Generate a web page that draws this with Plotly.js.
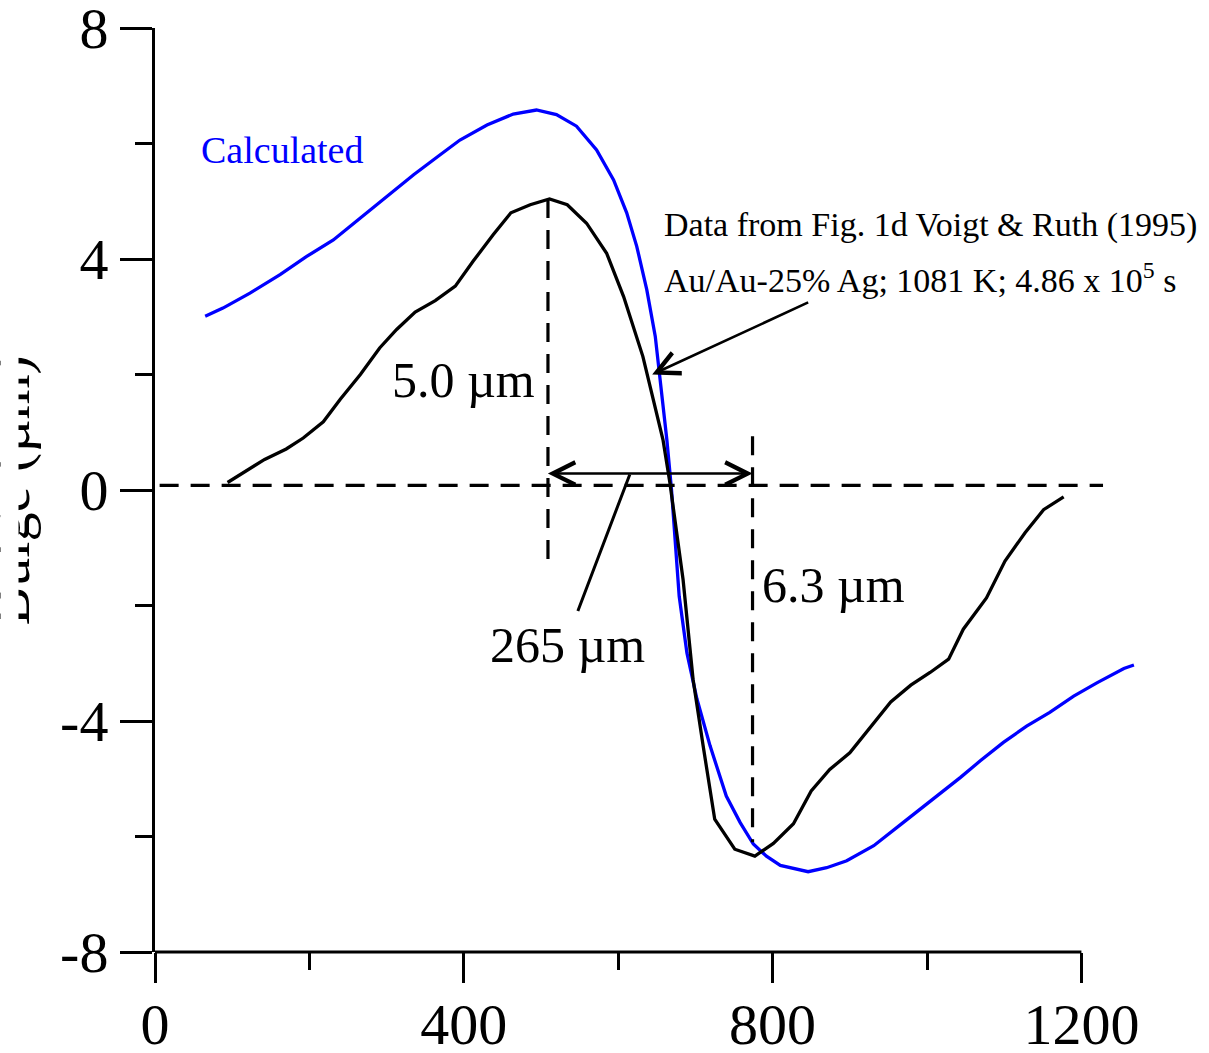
<!DOCTYPE html>
<html>
<head>
<meta charset="utf-8">
<script src="https://cdn.plot.ly/plotly-3.0.1.min.js"></script>
<style>html,body{margin:0;padding:0;background:#fff;}#chart{width:1209px;height:1053px;}</style>
</head>
<body>
<div id="chart"></div>
<script>
// ---- data (distance in µm, bulge in µm) ----
const dataX = [94,123,142,170,192,218,240,266,291,313,337,363,389,412,438,461,486,511,534,559,585,607,632,658,667,684,697,710,725,751,777,801,827,850,874,900,927,953,979,1004,1028,1047,1077,1101,1127,1151,1177];
const dataY = [0.13,0.38,0.53,0.71,0.90,1.18,1.57,2.00,2.46,2.78,3.08,3.28,3.53,3.96,4.42,4.80,4.94,5.04,4.94,4.62,4.10,3.35,2.31,0.87,0.12,-1.55,-3.28,-4.43,-5.70,-6.22,-6.34,-6.12,-5.78,-5.21,-4.84,-4.55,-4.09,-3.67,-3.38,-3.16,-2.93,-2.41,-1.87,-1.23,-0.74,-0.34,-0.12];

const calcX = [65,88,123,162,196,231,266,300,335,369,395,430,464,494,520,546,572,594,611,624,637,648,656,663,669,674,679,689,702,719,740,758,775,792,810,846,870,896,931,969,1008,1043,1069,1099,1129,1159,1190,1220,1255,1268];
const calcY = [3.01,3.15,3.41,3.73,4.04,4.33,4.71,5.08,5.46,5.80,6.06,6.32,6.51,6.58,6.50,6.30,5.89,5.37,4.80,4.22,3.47,2.66,1.74,0.87,0.01,-0.90,-1.84,-2.82,-3.62,-4.43,-5.30,-5.76,-6.13,-6.34,-6.50,-6.61,-6.54,-6.42,-6.16,-5.76,-5.35,-4.98,-4.69,-4.37,-4.09,-3.85,-3.57,-3.34,-3.09,-3.03];

// tick labels
const xTickVals = [0, 400, 800, 1200];
const xTickText = ['0', '400', '800', '1200'];
const xMinorVals = [200, 600, 1000];
const yTickVals = [-8, -4, 0, 4, 8];
const yTickText = ['-8', '-4', '0', '4', '8'];
const yMinorVals = [-6, -2, 2, 6];

// annotation markers (reading of the figure)
const peakX = 509, peakY = 5.04;       // 5.0 µm
const troughX = 774, troughY = -6.3;   // 6.3 µm
const baseY = 0.08;                    // dashed reference level
const spanY = 0.285;                   // 265 µm arrow level

const serif = '"Liberation Serif", "Times New Roman", Times, serif';

const traces = [
  { x: calcX, y: calcY, type: 'scatter', mode: 'lines', name: 'Calculated',
    line: { color: '#0000ff', width: 3.3 }, hoverinfo: 'skip' },
  { x: dataX, y: dataY, type: 'scatter', mode: 'lines', name: 'Data',
    line: { color: '#000000', width: 3.3 }, hoverinfo: 'skip' }
];

const dashStyle = { color: '#000', width: 3.2, dash: '19px,12px' };

const layout = {
  width: 1209, height: 1053,
  margin: { l: 155, r: 9, t: 28, b: 101, pad: 0 },
  paper_bgcolor: '#fff', plot_bgcolor: '#fff',
  showlegend: false,
  font: { family: serif, color: '#000' },
  xaxis: {
    range: [0, 1353.6], showgrid: false, zeroline: false, showline: false,
    tickmode: 'array', tickvals: xTickVals, ticktext: xTickText,
    ticks: 'outside', ticklen: 30, tickwidth: 3, tickcolor: '#000',
    ticklabelstandoff: -9, ticklabeloverflow: 'allow',
    tickfont: { family: serif, size: 58, color: '#000' },
    minor: { tickmode: 'array', tickvals: xMinorVals, ticks: 'outside', ticklen: 17, tickwidth: 3, tickcolor: '#000', showgrid: false }
  },
  yaxis: {
    range: [-8, 8], showgrid: false, zeroline: false,
    showline: true, linecolor: '#000', linewidth: 3,
    tickmode: 'array', tickvals: yTickVals, ticktext: yTickText,
    ticks: 'outside', ticklen: 32, tickwidth: 3, tickcolor: '#000',
    ticklabelstandoff: 0, ticklabeloverflow: 'allow',
    tickfont: { family: serif, size: 58, color: '#000' },
    minor: { tickmode: 'array', tickvals: yMinorVals, ticks: 'outside', ticklen: 17, tickwidth: 3, tickcolor: '#000', showgrid: false }
  },
  shapes: [
    // x axis line (stops at 1200)
    { type: 'line', xref: 'x', yref: 'paper', x0: 0, x1: 1200, y0: 0, y1: 0, line: { color: '#000', width: 3 } },
    // dashed horizontal reference
    { type: 'line', xref: 'x', yref: 'y', x0: 6, x1: 1228, y0: baseY, y1: baseY, line: dashStyle },
    // dashed verticals
    { type: 'line', xref: 'x', yref: 'y', x0: peakX, x1: peakX, y0: peakY, y1: -1.2, line: dashStyle },
    { type: 'line', xref: 'x', yref: 'y', x0: troughX, x1: troughX, y0: 0.93, y1: -6.1, line: dashStyle }
  ],
  annotations: [
    { text: 'Bulge (µm)', textangle: -90, xref: 'paper', yref: 'paper', x: 0, y: 0.5,
      xshift: -145.6, xanchor: 'center', yanchor: 'middle', showarrow: false,
      font: { family: serif, size: 58, color: '#000' } },
    // the reference figure is cropped: only the lower part of the axis title glyphs shows
    { text: ' ', xref: 'paper', yref: 'paper', x: 0, y: 0.5, xshift: -155, xanchor: 'left', yanchor: 'middle',
      width: 17, height: 340, bgcolor: '#ffffff', borderpad: 0, showarrow: false },
    { text: 'Calculated', xref: 'x', yref: 'y', x: 57, y: 5.49, xanchor: 'left', yanchor: 'bottom',
      showarrow: false, font: { family: serif, size: 38, color: '#0000ff' } },
    { text: 'Data from Fig. 1d Voigt &amp; Ruth (1995)', xref: 'x', yref: 'y', x: 657, y: 4.22,
      xanchor: 'left', yanchor: 'bottom', showarrow: false, font: { family: serif, size: 34, color: '#000' } },
    { text: 'Au/Au-25% Ag; 1081 K; 4.86 x 10<sup>5</sup> s', xref: 'x', yref: 'y', x: 657, y: 3.27,
      xanchor: 'left', yanchor: 'bottom', showarrow: false, font: { family: serif, size: 34, color: '#000' } },
    { text: '5.0 µm', xref: 'x', yref: 'y', x: 304, y: 1.38, xanchor: 'left', yanchor: 'bottom',
      showarrow: false, font: { family: serif, size: 50, color: '#000' } },
    { text: '265 µm', xref: 'x', yref: 'y', x: 431, y: -3.21, xanchor: 'left', yanchor: 'bottom',
      showarrow: false, font: { family: serif, size: 50, color: '#000' } },
    { text: '6.3 µm', xref: 'x', yref: 'y', x: 784, y: -2.17, xanchor: 'left', yanchor: 'bottom',
      showarrow: false, font: { family: serif, size: 50, color: '#000' } },
    // double arrow, 265 µm span
    { text: '', xref: 'x', yref: 'y', axref: 'x', ayref: 'y', x: troughX, y: spanY, ax: 507, ay: spanY,
      showarrow: true, arrowside: 'end+start', arrowhead: 5, startarrowhead: 5,
      arrowsize: 1.7, startarrowsize: 1.7, arrowwidth: 2.6, arrowcolor: '#000', standoff: 0, startstandoff: 0 },
    // arrow from label to data curve
    { text: '', xref: 'x', yref: 'y', axref: 'x', ayref: 'y', x: 644, y: 2.0, ax: 848, ay: 3.26,
      showarrow: true, arrowhead: 5, arrowsize: 1.7, arrowwidth: 2.6, arrowcolor: '#000', standoff: 0 },
    // pointer line for 265 µm label
    { text: '', xref: 'x', yref: 'y', axref: 'x', ayref: 'y', x: 615, y: 0.27, ax: 547, ay: -2.12,
      showarrow: true, arrowhead: 0, arrowwidth: 3, arrowcolor: '#000', standoff: 0 }
  ]
};

Plotly.newPlot('chart', traces, layout, { staticPlot: true, displayModeBar: false });
</script>
</body>
</html>
